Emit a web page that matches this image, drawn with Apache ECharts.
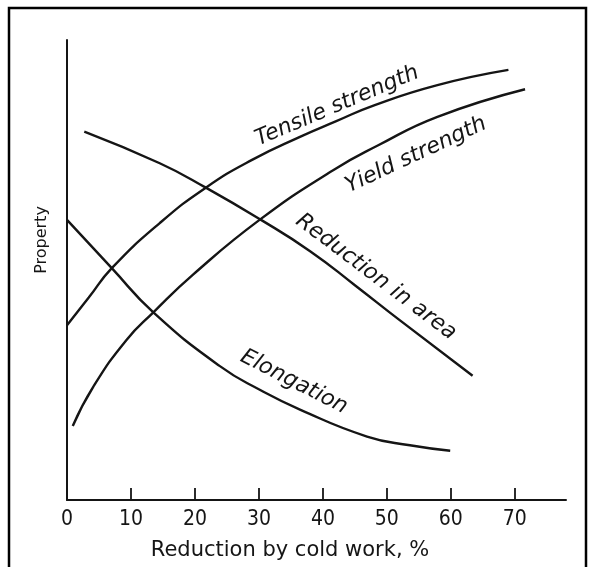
<!DOCTYPE html>
<html>
<head>
<meta charset="utf-8">
<script src="https://cdn.jsdelivr.net/npm/echarts@6/dist/echarts.min.js"></script>
<style>
html,body{margin:0;padding:0;background:#fff;}
#chart{width:595px;height:567px;}
</style>
</head>
<body>
<div id="chart"></div>
<script>
// Data (x = reduction by cold work %, y = relative property, 0-100)
var xTicks = [0, 10, 20, 30, 40, 50, 60, 70];

var tensileX = [0, 3.4, 7.0, 14.5, 21.7, 29, 36.5, 42, 48, 57.9, 69.0];
var tensileY = [38.0, 44.0, 50.4, 60.2, 67.9, 74.0, 79.0, 82.3, 85.8, 90.2, 93.5];

var yieldX = [0.9, 4.1, 9.3, 13.5, 19.7, 30.2, 41.6, 48.5, 57.9, 71.6];
var yieldY = [16.1, 24.6, 34.8, 40.8, 49.0, 61.0, 71.7, 77.0, 83.3, 89.3];

var raX = [2.7, 14.5, 21.7, 30.2, 38.0, 45.0, 52.0, 63.4];
var raY = [80.1, 73.2, 67.9, 61.0, 54.1, 46.7, 39.1, 27.0];

var elongX = [0, 7.0, 13.5, 23.9, 30.2, 36.5, 46.9, 53.6, 59.9];
var elongY = [60.9, 50.4, 40.8, 29.1, 23.9, 19.6, 13.8, 11.9, 10.7];

var curveNames = ['Tensile strength', 'Yield strength', 'Reduction in area', 'Elongation'];
var xTitle = 'Reduction by cold work, %';
var yTitle = 'Property';

function pairs(xs, ys) { return xs.map(function (x, i) { return [x, ys[i]]; }); }

var ink = '#151515';
var chart = echarts.init(document.getElementById('chart'), null, {renderer: 'canvas'});

function lineSeries(name, xs, ys) {
  return {
    name: name, type: 'line', data: pairs(xs, ys),
    smooth: 0.5, showSymbol: false, symbol: 'none',
    lineStyle: {color: ink, width: 2.4}, silent: true, animation: false
  };
}

var labelFont = 'italic 22px "DejaVu Sans", sans-serif';
function curveLabel(text, x, y, deg) {
  return {
    type: 'text', x: x, y: y, rotation: deg * Math.PI / 180,
    style: {text: text, font: labelFont, fill: ink, align: 'center', verticalAlign: 'middle'}
  };
}

var graphics = [
  {type: 'rect', shape: {x: 9, y: 8, width: 577, height: 600}, style: {fill: 'none', stroke: '#000', lineWidth: 2.5}, silent: true},
  curveLabel(curveNames[0], 337, 106, 23),
  curveLabel(curveNames[1], 416, 155, 25),
  curveLabel(curveNames[2], 376, 277, -37),
  curveLabel(curveNames[3], 294, 382, -27),
  {type: 'text', x: 290, y: 551, style: {text: xTitle, font: '21px "DejaVu Sans", sans-serif', fill: ink, align: 'center', verticalAlign: 'middle'}},
  {type: 'text', x: 42, y: 240, rotation: Math.PI / 2, style: {text: yTitle, font: '16px "DejaVu Sans", sans-serif', fill: ink, align: 'center', verticalAlign: 'middle'}}
];

chart.setOption({
  animation: false,
  backgroundColor: '#fff',
  grid: {left: 67, top: 40, right: 29, bottom: 67, containLabel: false},
  xAxis: {
    type: 'value', min: 0, max: 78, interval: 10,
    axisLine: {show: true, lineStyle: {color: ink, width: 2}},
    axisTick: {show: true, inside: true, length: 12, lineStyle: {color: ink, width: 1.8}},
    axisLabel: {
      margin: 9, color: ink, showMaxLabel: false,
      formatter: function (v) { return xTicks.indexOf(v) >= 0 ? String(v) : ''; },
      fontFamily: '"Liberation Sans Narrow", "DejaVu Sans Condensed", "Liberation Sans", sans-serif',
      fontSize: 21
    },
    splitLine: {show: false}
  },
  yAxis: {
    type: 'value', min: 0, max: 100,
    axisLine: {show: true, lineStyle: {color: ink, width: 2}},
    axisTick: {show: false}, axisLabel: {show: false}, splitLine: {show: false}
  },
  series: [
    lineSeries(curveNames[0], tensileX, tensileY),
    lineSeries(curveNames[1], yieldX, yieldY),
    lineSeries(curveNames[2], raX, raY),
    lineSeries(curveNames[3], elongX, elongY)
  ],
  graphic: graphics
});
</script>
</body>
</html>
